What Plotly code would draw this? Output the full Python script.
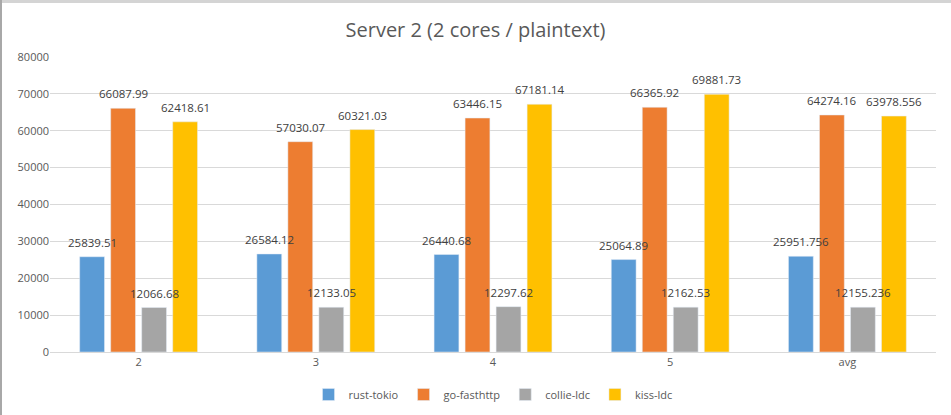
import plotly.graph_objects as go

categories = ["2", "3", "4", "5", "avg"]
series_names = ["rust-tokio", "go-fasthttp", "collie-ldc", "kiss-ldc"]
rust_tokio = [25839.51, 26584.12, 26440.68, 25064.89, 25951.756]
go_fasthttp = [66087.99, 57030.07, 63446.15, 66365.92, 64274.16]
collie_ldc = [12066.68, 12133.05, 12297.62, 12162.53, 12155.236]
kiss_ldc = [62418.61, 60321.03, 67181.14, 69881.73, 63978.556]
label_text = {
    "rust-tokio": ["25839.51", "26584.12", "26440.68", "25064.89", "25951.756"],
    "go-fasthttp": ["66087.99", "57030.07", "63446.15", "66365.92", "64274.16"],
    "collie-ldc": ["12066.68", "12133.05", "12297.62", "12162.53", "12155.236"],
    "kiss-ldc": ["62418.61", "60321.03", "67181.14", "69881.73", "63978.556"],
}
colors = ["#5B9BD5", "#ED7D31", "#A5A5A5", "#FFC000"]
y_ticks = [0, 10000, 20000, 30000, 40000, 50000, 60000, 70000, 80000]

FONT = "Open Sans, Lato, sans-serif"

W, H = 951, 415
ML, MR, MT, MB = 50, 15, 57, 63
PW, PH = W - ML - MR, H - MT - MB
BARGAP, GROUPGAP = 0.3, 0.2

fig = go.Figure()
all_vals = [rust_tokio, go_fasthttp, collie_ldc, kiss_ldc]
for name, vals, col in zip(series_names, all_vals, colors):
    fig.add_trace(go.Bar(name=name, x=categories, y=vals, marker_color=col))

# data labels as annotations placed above each bar of the group
cat_w = PW / len(categories)
slot = cat_w * (1 - BARGAP) / len(series_names)
for i, (name, vals) in enumerate(zip(series_names, all_vals)):
    off = (i - (len(series_names) - 1) / 2) * slot
    for ci, (v, t) in enumerate(zip(vals, label_text[name])):
        fig.add_annotation(x=ci, y=v, text=t, showarrow=False, yanchor="bottom",
                           xshift=off, yshift=5,
                           font=dict(size=11.5, color="#404040", family=FONT))

fig.update_layout(
    width=W, height=H,
    margin=dict(l=ML, r=MR, t=MT, b=MB, autoexpand=False),
    paper_bgcolor="white", plot_bgcolor="white",
    barmode="group", bargap=BARGAP, bargroupgap=GROUPGAP,
    title=dict(text="Server 2 (2 cores / plaintext)", x=0.5, xanchor="center",
               y=0.927, yanchor="middle",
               font=dict(size=20, color="#595959", family=FONT)),
    font=dict(family=FONT, color="#595959", size=11),
    legend=dict(orientation="h", x=0.5, xanchor="center", y=-0.095, yanchor="top",
                font=dict(size=11, color="#595959"), itemwidth=30, traceorder="normal"),
    yaxis=dict(range=[0, 80000], tickvals=y_ticks, ticktext=[str(v) for v in y_ticks],
               showgrid=True, gridcolor="#D9D9D9", gridwidth=1, zeroline=False,
               showline=False, ticks="", tickfont=dict(size=11, color="#595959")),
    xaxis=dict(type="category", range=[-0.5, len(categories) - 0.5],
               showline=True, linecolor="#D9D9D9", linewidth=1, ticks="",
               tickfont=dict(size=11, color="#595959")),
)
# Spreadsheet frame decorations (top border and left border)
fig.add_shape(type="rect", xref="paper", yref="paper",
              x0=-ML / PW, x1=(W - ML) / PW, y0=1 + (MT - 3) / PH, y1=1 + MT / PH,
              fillcolor="#D4D4D4", line_width=0, layer="above")
fig.add_shape(type="rect", xref="paper", yref="paper",
              x0=-ML / PW, x1=-(ML - 2) / PW, y0=-MB / PH, y1=1 + MT / PH,
              fillcolor="#A8A8A8", line_width=0, layer="above")

fig.write_html("out.html", config={"displayModeBar": False},
               post_script="document.body.style.margin='0';document.body.style.overflow='hidden';")
